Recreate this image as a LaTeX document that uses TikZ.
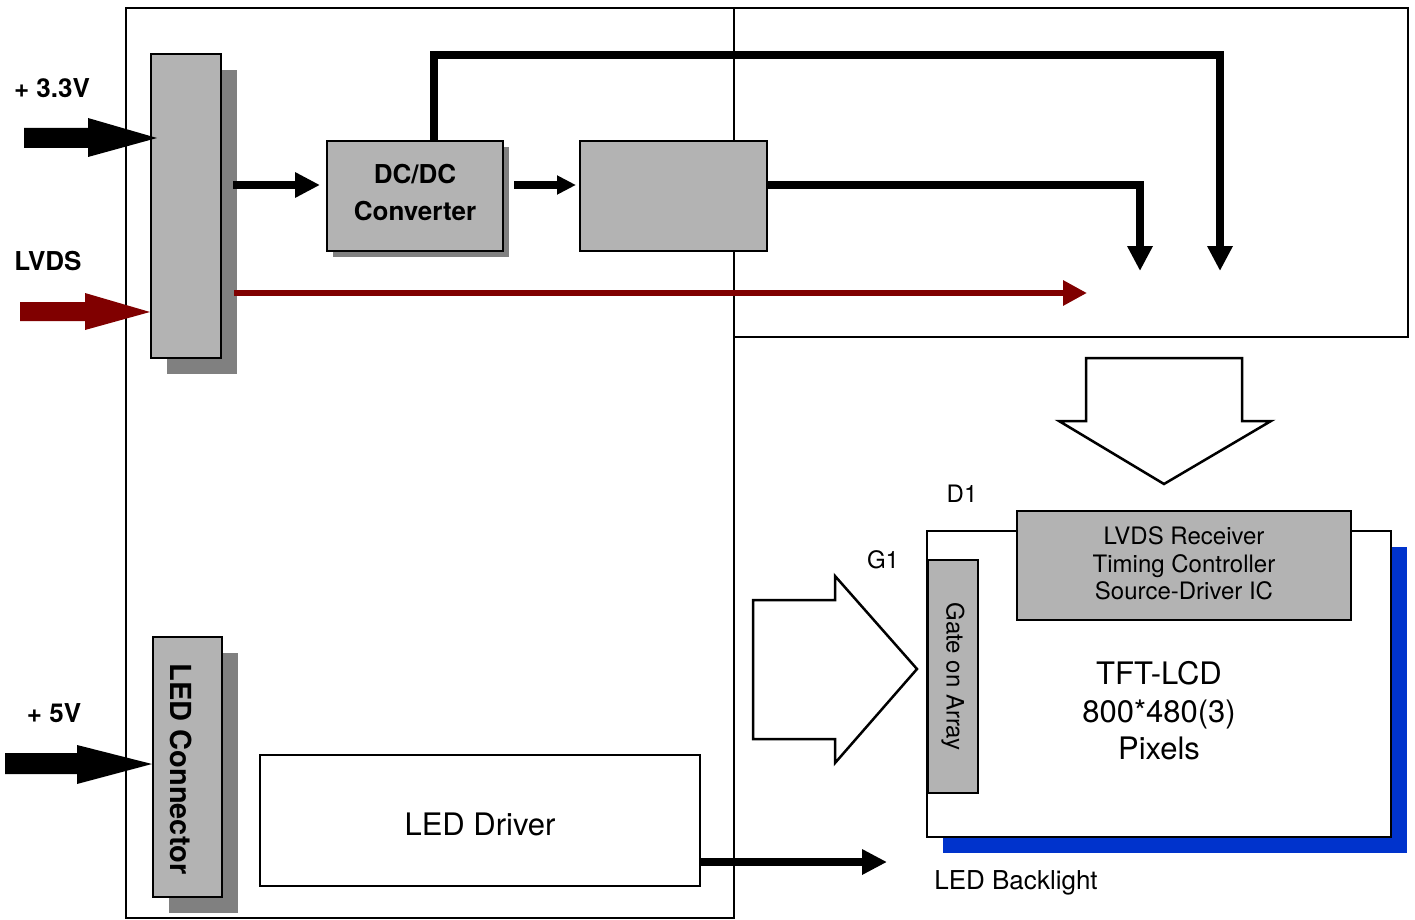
\documentclass[tikz,border=0pt]{standalone}
\usepackage{fontspec}
\setmainfont{TeX Gyre Heros}
\usetikzlibrary{arrows.meta,shadows}
\definecolor{boxgray}{HTML}{B3B3B3}
\definecolor{shadowgray}{HTML}{808080}
\definecolor{darkred}{HTML}{800000}
\definecolor{panelblue}{HTML}{0033CC}
\begin{document}
\begin{tikzpicture}[x=1pt,y=-1pt, line join=miter,
  frame/.style={draw, line width=1.5pt},
  graybox/.style={draw, line width=2.5pt, fill=boxgray, inner sep=0pt, outer sep=0pt, anchor=north west},
  whitebox/.style={draw, line width=2.2pt, fill=white, inner sep=0pt, outer sep=0pt, anchor=north west},
  bigshadow/.style={general shadow={fill=#1, shadow xshift=16pt, shadow yshift=-16pt}},
  smallshadow/.style={general shadow={fill=shadowgray, shadow xshift=6pt, shadow yshift=-6pt}},
  pipe/.style={draw, line width=7.5pt},
  bighead/.style={-{Triangle[length=25pt,width=24pt]}},
  smallhead/.style={-{Triangle[length=19pt,width=18pt]}},
  lbl/.style={font=\fontsize{24}{28}\selectfont, inner sep=0pt},
  blbl/.style={font=\fontsize{26}{30}\selectfont\bfseries, inner sep=0pt},
  hollow/.style={draw, line width=2.5pt, fill=white}
]
\useasboundingbox (0,0) rectangle (1415,920);

% frames
\draw[frame] (126,8) rectangle (734,918);
\draw[frame] (734,8) rectangle (1408,337);

% input connector
\node[graybox, bigshadow=shadowgray, minimum width=70pt, minimum height=304pt] (c1) at (151,54) {};

% DC/DC converter
\node[graybox, smallshadow, minimum width=176pt, minimum height=110pt, align=center,
      font=\fontsize{26}{37}\selectfont\bfseries] (dc) at (327,141) {DC/DC\\Converter\rule[-8pt]{0pt}{1pt}};

% blank box
\node[graybox, minimum width=187pt, minimum height=110pt] (bx) at (580,141) {};

% connectors
\coordinate (t1) at (1140,271);
\coordinate (t2) at (1220,271);
\coordinate (r1) at (1087,293);
\coordinate (dcin) at ([yshift=11pt]dc.west);
\coordinate (dcout) at ([yshift=11pt]dc.east);
\coordinate (bxin) at ([yshift=11pt]bx.west);
\coordinate (bxout) at ([yshift=11pt]bx.east);
\coordinate (dctop) at ([xshift=19pt]dc.north);

\draw[pipe, bighead, shorten <=12pt, shorten >=7pt] (c1.east |- dcin) -- (dcin);
\draw[pipe, smallhead, shorten <=11pt, shorten >=4pt] (dcout) -- (bxin);
\draw[pipe, bighead] (dctop) -- ++(0,-86) -| (t2);
\draw[pipe, bighead] (bxout) -| (t1);
\draw[pipe, line width=6.5pt, draw=darkred, -{Triangle[length=24pt,width=24pt]}, shorten <=13pt] (c1.east |- r1) -- (r1);

% block input arrows
\fill (24,128) -- (88,128) -- (88,118) -- (157,138) -- (88,157) -- (88,148) -- (24,148) -- cycle;
\fill[darkred] (20,302) -- (85,302) -- (85,293) -- (150,312) -- (85,330) -- (85,321) -- (20,321) -- cycle;

\node[blbl] (v33) at (52,88) {+ 3.3V};
\node[blbl] (lv) at (48,261) {LVDS};
\node[blbl] (v5) at (54,713) {+ 5V};

% LED connector
\node[graybox, bigshadow=shadowgray, minimum width=69pt, minimum height=260pt] (lc) at (153,637) {};
\node[rotate=-90, inner sep=0pt, font=\fontsize{29}{30}\selectfont\bfseries] (lct) at ([xshift=-6pt,yshift=-2pt]lc.center) {LED Connector};
\fill (5,753) -- (77,753) -- (77,745) -- (152,764) -- (77,784) -- (77,774) -- (5,774) -- cycle;

% LED driver
\node[whitebox, minimum width=440pt, minimum height=131pt] (drv) at (260,755) {};
\node[font=\fontsize{31}{36}\selectfont, inner sep=0pt] (drvt) at ([yshift=-4pt]drv.center) {LED Driver};
\coordinate (bl) at (887,862);
\draw[pipe, bighead] (drv.east |- bl) -- (bl);

% hollow arrows
\draw[hollow] (1086,358) -- (1242,358) -- (1242,421) -- (1271,421) -- (1164,484) -- (1059,421) -- (1086,421) -- cycle;
\draw[hollow] (753,600) -- (835,600) -- (835,576) -- (917,669) -- (835,763) -- (835,739) -- (753,739) -- cycle;

% panel
\node[whitebox, bigshadow=panelblue, minimum width=464pt, minimum height=306pt] (pnl) at (927,531) {};
\node[font=\fontsize{31}{37.5}\selectfont, align=center, inner sep=0pt] (tft) at (1159,711) {TFT-LCD\\800*480(3)\\Pixels};
\node[graybox, minimum width=334pt, minimum height=109pt, align=center,
      font=\fontsize{24}{27.5}\selectfont] (rx) at (1017,511) {LVDS Receiver\\Timing Controller\\Source-Driver IC\rule[-4pt]{0pt}{1pt}};
\node[graybox, minimum width=50pt, minimum height=233pt] (ga) at (928,560) {};
\node[rotate=-90, inner sep=0pt, font=\fontsize{24}{28}\selectfont] (gat) at (ga.center) {Gate on Array};

\node[lbl] (d1) at (962,494) {D1};
\node[lbl] (g1) at (883,560) {G1};
\node[font=\fontsize{26}{30}\selectfont, inner sep=0pt] (blt) at (1016,883) {LED Backlight};
\end{tikzpicture}
\end{document}
